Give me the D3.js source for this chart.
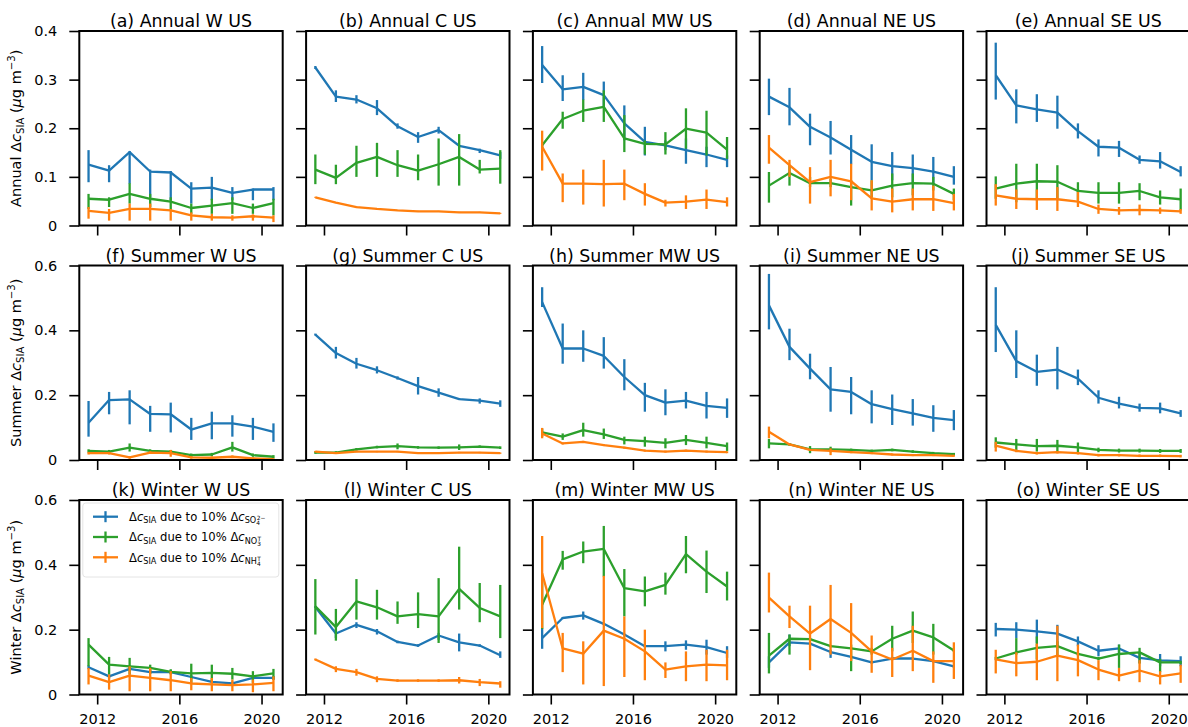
<!DOCTYPE html>
<html>
<head>
<meta charset="utf-8">
<script src="https://cdn.jsdelivr.net/npm/d3@7"></script>
<style>
  body { margin: 0; background: #fff; }
  text { font-family: "DejaVu Sans", sans-serif; fill: #000; }
</style>
</head>
<body>
<svg id="chart" width="1188" height="727"></svg>
<script>
// ---- data -------------------------------------------------------------
const years = [2011, 2012, 2013, 2014, 2015, 2016, 2017, 2018, 2019, 2020];
const xTickYears = [2012, 2016, 2020];
const seasons = ["Annual", "Summer", "Winter"];
const regions = ["W", "C", "MW", "NE", "SE"];
const panelLetters = ["a", "b", "c", "d", "e", "f", "g", "h", "i", "j", "k", "l", "m", "n", "o"];
const seasonYTicks = [[0, 0.1, 0.2, 0.3, 0.4], [0, 0.2, 0.4, 0.6], [0, 0.2, 0.4, 0.6]];

// SIA response to a 10% change in sulfate (rows = panels a..o)
const so4Mean = [
  [0.125,0.113,0.151,0.111,0.109,0.076,0.078,0.067,0.074,0.074],
  [0.325,0.265,0.259,0.241,0.204,0.182,0.196,0.164,0.155,0.144],
  [0.330,0.280,0.285,0.268,0.210,0.172,0.165,0.155,0.146,0.135],
  [0.265,0.243,0.203,0.181,0.156,0.131,0.122,0.118,0.111,0.100],
  [0.309,0.247,0.239,0.232,0.194,0.162,0.160,0.135,0.132,0.110],
  [0.115,0.185,0.187,0.142,0.141,0.094,0.113,0.113,0.103,0.087],
  [0.387,0.330,0.297,0.277,0.253,0.228,0.208,0.188,0.183,0.174],
  [0.487,0.344,0.344,0.321,0.256,0.200,0.177,0.183,0.167,0.161],
  [0.477,0.349,0.282,0.218,0.210,0.172,0.157,0.144,0.130,0.123],
  [0.417,0.305,0.272,0.279,0.251,0.192,0.174,0.161,0.159,0.144],
  [0.084,0.056,0.079,0.069,0.069,0.054,0.039,0.034,0.051,0.051],
  [0.270,0.188,0.215,0.195,0.162,0.151,0.182,0.161,0.151,0.121],
  [0.174,0.236,0.244,0.218,0.185,0.149,0.149,0.154,0.146,0.128],
  [0.099,0.161,0.157,0.131,0.116,0.099,0.111,0.111,0.103,0.087],
  [0.202,0.200,0.195,0.188,0.164,0.135,0.142,0.113,0.105,0.103]
];
const so4Low = [
  [0.089,0.089,0.086,0.058,0.052,0.045,0.052,0.052,0.052,0.052],
  [0.322,0.254,0.251,0.227,0.199,0.170,0.189,0.161,0.149,0.137],
  [0.293,0.256,0.258,0.244,0.175,0.144,0.155,0.127,0.120,0.120],
  [0.227,0.206,0.165,0.146,0.126,0.093,0.093,0.089,0.086,0.084],
  [0.259,0.210,0.213,0.199,0.179,0.142,0.141,0.127,0.117,0.101],
  [0.072,0.141,0.110,0.087,0.085,0.062,0.064,0.072,0.062,0.056],
  [0.384,0.313,0.282,0.267,0.248,0.202,0.195,0.185,0.174,0.164],
  [0.472,0.297,0.303,0.282,0.215,0.149,0.138,0.159,0.128,0.130],
  [0.403,0.308,0.249,0.149,0.141,0.113,0.108,0.106,0.087,0.092],
  [0.333,0.253,0.229,0.218,0.231,0.174,0.159,0.149,0.144,0.133],
  [0.078,0.050,0.073,0.063,0.063,0.048,0.033,0.028,0.045,0.045],
  [0.267,0.174,0.205,0.185,0.158,0.147,0.169,0.133,0.147,0.113],
  [0.141,0.233,0.231,0.215,0.182,0.146,0.133,0.138,0.123,0.113],
  [0.082,0.149,0.153,0.113,0.112,0.095,0.107,0.107,0.099,0.083],
  [0.179,0.174,0.159,0.149,0.149,0.118,0.126,0.097,0.087,0.087]
];
const so4High = [
  [0.155,0.124,0.153,0.115,0.112,0.089,0.100,0.079,0.076,0.079],
  [0.328,0.278,0.268,0.258,0.210,0.192,0.203,0.166,0.158,0.151],
  [0.369,0.309,0.314,0.296,0.247,0.203,0.175,0.179,0.162,0.144],
  [0.302,0.283,0.230,0.215,0.186,0.167,0.151,0.146,0.141,0.122],
  [0.376,0.280,0.270,0.267,0.210,0.177,0.174,0.144,0.151,0.122],
  [0.182,0.210,0.215,0.167,0.177,0.130,0.149,0.138,0.130,0.113],
  [0.390,0.349,0.315,0.289,0.258,0.256,0.221,0.191,0.190,0.184],
  [0.533,0.421,0.400,0.379,0.311,0.238,0.218,0.210,0.210,0.190],
  [0.574,0.405,0.328,0.287,0.256,0.215,0.202,0.188,0.169,0.154],
  [0.533,0.400,0.325,0.349,0.279,0.215,0.195,0.174,0.177,0.154],
  [0.090,0.062,0.085,0.075,0.075,0.060,0.045,0.040,0.057,0.057],
  [0.273,0.202,0.223,0.202,0.166,0.155,0.190,0.188,0.155,0.133],
  [0.205,0.239,0.256,0.221,0.188,0.152,0.164,0.167,0.169,0.149],
  [0.118,0.185,0.161,0.138,0.120,0.103,0.115,0.115,0.107,0.091],
  [0.221,0.223,0.231,0.215,0.179,0.152,0.154,0.130,0.125,0.118]
];

// SIA response to a 10% change in total nitrate
const no3Mean = [
  [0.055,0.053,0.065,0.055,0.049,0.036,0.041,0.046,0.036,0.046],
  [0.115,0.098,0.129,0.141,0.124,0.113,0.126,0.141,0.115,0.117],
  [0.165,0.219,0.236,0.244,0.179,0.168,0.167,0.199,0.191,0.156],
  [0.082,0.108,0.087,0.087,0.079,0.072,0.082,0.087,0.086,0.065],
  [0.076,0.086,0.091,0.090,0.071,0.067,0.067,0.071,0.058,0.054],
  [0.028,0.026,0.038,0.028,0.026,0.015,0.017,0.039,0.015,0.010],
  [0.023,0.023,0.033,0.040,0.043,0.039,0.038,0.039,0.041,0.038],
  [0.085,0.072,0.092,0.079,0.062,0.058,0.053,0.062,0.053,0.043],
  [0.051,0.048,0.033,0.033,0.031,0.028,0.031,0.026,0.021,0.018],
  [0.054,0.048,0.043,0.044,0.039,0.031,0.029,0.029,0.028,0.028],
  [0.154,0.092,0.087,0.082,0.070,0.065,0.067,0.064,0.056,0.065],
  [0.272,0.208,0.287,0.269,0.241,0.248,0.241,0.326,0.267,0.241],
  [0.277,0.417,0.441,0.449,0.328,0.318,0.338,0.433,0.379,0.333],
  [0.120,0.172,0.171,0.149,0.142,0.133,0.172,0.197,0.176,0.136],
  [0.111,0.130,0.144,0.149,0.125,0.111,0.125,0.130,0.099,0.099]
];
const no3Low = [
  [0.034,0.038,0.045,0.038,0.031,0.024,0.024,0.024,0.024,0.021],
  [0.085,0.085,0.100,0.100,0.100,0.093,0.082,0.082,0.107,0.086],
  [0.160,0.199,0.213,0.213,0.151,0.146,0.146,0.158,0.144,0.137],
  [0.047,0.082,0.079,0.079,0.041,0.058,0.058,0.062,0.072,0.052],
  [0.055,0.048,0.052,0.055,0.052,0.045,0.045,0.052,0.043,0.031],
  [0.023,0.021,0.026,0.023,0.021,0.010,0.012,0.026,0.010,0.005],
  [0.019,0.019,0.029,0.036,0.033,0.035,0.034,0.031,0.037,0.034],
  [0.072,0.062,0.072,0.065,0.048,0.041,0.036,0.046,0.036,0.028],
  [0.036,0.044,0.021,0.024,0.027,0.024,0.027,0.022,0.017,0.014],
  [0.038,0.031,0.026,0.026,0.024,0.024,0.023,0.023,0.022,0.022],
  [0.087,0.062,0.062,0.065,0.062,0.036,0.041,0.046,0.036,0.046],
  [0.185,0.166,0.231,0.231,0.218,0.205,0.159,0.262,0.223,0.174],
  [0.202,0.385,0.405,0.364,0.241,0.272,0.308,0.374,0.313,0.290],
  [0.065,0.123,0.167,0.145,0.072,0.123,0.133,0.159,0.123,0.131],
  [0.106,0.123,0.108,0.118,0.120,0.106,0.082,0.095,0.069,0.094]
];
const no3High = [
  [0.065,0.058,0.087,0.065,0.058,0.045,0.055,0.058,0.045,0.055],
  [0.146,0.125,0.164,0.170,0.155,0.146,0.179,0.188,0.135,0.155],
  [0.170,0.234,0.259,0.278,0.227,0.175,0.192,0.241,0.236,0.182],
  [0.110,0.124,0.100,0.096,0.093,0.093,0.107,0.107,0.100,0.076],
  [0.101,0.127,0.127,0.124,0.089,0.089,0.089,0.087,0.072,0.076],
  [0.033,0.031,0.051,0.033,0.031,0.020,0.022,0.056,0.020,0.015],
  [0.027,0.027,0.037,0.044,0.051,0.043,0.042,0.048,0.045,0.042],
  [0.097,0.082,0.115,0.097,0.072,0.072,0.067,0.077,0.072,0.054],
  [0.065,0.052,0.043,0.041,0.035,0.032,0.035,0.030,0.025,0.022],
  [0.070,0.065,0.065,0.062,0.054,0.038,0.035,0.035,0.034,0.034],
  [0.174,0.116,0.113,0.092,0.078,0.095,0.092,0.082,0.072,0.079],
  [0.356,0.264,0.356,0.323,0.287,0.315,0.359,0.456,0.344,0.338],
  [0.350,0.443,0.472,0.520,0.387,0.364,0.376,0.489,0.444,0.379],
  [0.190,0.185,0.175,0.153,0.154,0.144,0.212,0.256,0.218,0.141],
  [0.116,0.174,0.179,0.164,0.130,0.116,0.154,0.144,0.110,0.104]
];

// SIA response to a 10% change in total ammonium
const nh4Mean = [
  [0.030,0.026,0.034,0.034,0.031,0.021,0.017,0.016,0.019,0.016],
  [0.058,0.047,0.038,0.034,0.031,0.029,0.029,0.027,0.027,0.025],
  [0.162,0.086,0.086,0.085,0.086,0.065,0.047,0.049,0.053,0.048],
  [0.160,0.124,0.089,0.100,0.091,0.056,0.049,0.054,0.054,0.046],
  [0.062,0.055,0.054,0.054,0.049,0.034,0.031,0.032,0.031,0.029],
  [0.021,0.021,0.008,0.023,0.021,0.008,0.007,0.010,0.005,0.003],
  [0.026,0.021,0.026,0.026,0.026,0.021,0.021,0.023,0.023,0.021],
  [0.082,0.051,0.056,0.046,0.038,0.029,0.026,0.029,0.026,0.024],
  [0.087,0.048,0.031,0.028,0.024,0.021,0.017,0.015,0.015,0.013],
  [0.044,0.028,0.021,0.024,0.021,0.015,0.015,0.013,0.013,0.012],
  [0.058,0.038,0.058,0.051,0.044,0.034,0.031,0.029,0.031,0.036],
  [0.108,0.079,0.069,0.048,0.043,0.043,0.043,0.044,0.038,0.034],
  [0.374,0.142,0.126,0.197,0.172,0.133,0.077,0.087,0.092,0.090],
  [0.299,0.241,0.188,0.233,0.190,0.133,0.108,0.135,0.103,0.103],
  [0.108,0.097,0.101,0.120,0.106,0.077,0.058,0.074,0.056,0.065]
];
const nh4Low = [
  [0.014,0.010,0.010,0.010,0.010,0.010,0.010,0.010,0.010,0.007],
  [0.057,0.046,0.037,0.033,0.030,0.028,0.028,0.026,0.026,0.024],
  [0.113,0.048,0.043,0.039,0.052,0.041,0.039,0.034,0.034,0.039],
  [0.127,0.100,0.045,0.060,0.052,0.031,0.027,0.031,0.030,0.031],
  [0.041,0.034,0.032,0.030,0.038,0.024,0.022,0.021,0.024,0.024],
  [0.017,0.017,0.004,0.019,0.010,0.004,0.003,0.006,0.002,0.001],
  [0.024,0.019,0.024,0.024,0.024,0.019,0.019,0.021,0.021,0.019],
  [0.067,0.048,0.053,0.043,0.035,0.026,0.023,0.026,0.023,0.021],
  [0.067,0.045,0.028,0.015,0.021,0.018,0.014,0.012,0.012,0.010],
  [0.026,0.024,0.017,0.020,0.017,0.011,0.011,0.009,0.009,0.008],
  [0.031,0.015,0.010,0.010,0.010,0.013,0.010,0.010,0.007,0.010],
  [0.105,0.069,0.058,0.038,0.039,0.039,0.039,0.034,0.026,0.021],
  [0.205,0.069,0.031,0.026,0.054,0.044,0.051,0.041,0.041,0.044],
  [0.253,0.205,0.075,0.123,0.103,0.067,0.054,0.072,0.036,0.048],
  [0.065,0.056,0.044,0.041,0.056,0.044,0.041,0.038,0.031,0.036]
];
const nh4High = [
  [0.038,0.034,0.045,0.045,0.034,0.027,0.024,0.021,0.023,0.021],
  [0.059,0.048,0.039,0.035,0.032,0.030,0.030,0.028,0.028,0.026],
  [0.195,0.107,0.115,0.135,0.115,0.087,0.053,0.062,0.074,0.058],
  [0.186,0.135,0.120,0.135,0.127,0.093,0.076,0.076,0.082,0.065],
  [0.085,0.074,0.074,0.079,0.069,0.043,0.038,0.043,0.037,0.034],
  [0.025,0.025,0.012,0.027,0.031,0.012,0.011,0.014,0.008,0.005],
  [0.028,0.023,0.028,0.028,0.028,0.023,0.023,0.025,0.025,0.023],
  [0.099,0.054,0.059,0.049,0.041,0.032,0.029,0.032,0.029,0.027],
  [0.103,0.051,0.034,0.036,0.027,0.024,0.020,0.018,0.018,0.016],
  [0.056,0.032,0.025,0.028,0.025,0.019,0.019,0.017,0.017,0.016],
  [0.082,0.062,0.087,0.082,0.072,0.051,0.051,0.046,0.046,0.056],
  [0.111,0.087,0.079,0.056,0.047,0.047,0.047,0.054,0.048,0.041],
  [0.489,0.190,0.164,0.366,0.241,0.200,0.099,0.133,0.138,0.138],
  [0.376,0.274,0.274,0.338,0.282,0.182,0.144,0.212,0.133,0.161],
  [0.138,0.130,0.157,0.212,0.154,0.106,0.082,0.106,0.072,0.092]
];

// ---- layout -----------------------------------------------------------
const svg = d3.select("#chart");
const panelW = 203.4, panelH = 194.5;
const left0 = 79.3, colStep = 226.8;
const top0 = 31, rowStep = 234.5;
const tickFont = 14.5, titleFont = 17.4, legendFont = 11.6;
const lineW = 2.3;

// values are yearly means, placed a little past the start of each year
const timeOffset = 0.58;
const xs = years.map(y => y + timeOffset);
const xPad = 0.45;

const series = [
  { mean: so4Mean, low: so4Low, high: so4High, color: "#1f77b4", species: ["SO", "4", "2\u2212"] },
  { mean: no3Mean, low: no3Low, high: no3High, color: "#2ca02c", species: ["NO", "3", "T"] },
  { mean: nh4Mean, low: nh4Low, high: nh4High, color: "#ff7f0e", species: ["NH", "4", "T"] }
];

const x = d3.scaleLinear()
  .domain([xs[0] - xPad, xs[xs.length - 1] + xPad])
  .range([0, panelW]);

// appends a run of text pieces with sub/superscript shifts
function richText(sel, pieces, size) {
  let level = 0;
  pieces.forEach(p => {
    const t = sel.append("tspan").text(p.t);
    const target = p.shift || 0;
    const dy = target - level;
    if (dy !== 0) t.attr("dy", dy);
    if (p.dx) t.attr("dx", p.dx);
    level = target;
    t.attr("font-size", (p.scale || 1) * size);
    if (p.italic) t.attr("font-style", "italic");
  });
}

function speciesPieces(sp, size) {
  return [
    { t: "\u0394" },
    { t: "c", italic: true },
    { t: sp[0], scale: 0.7, shift: 0.22 * size },
    { t: sp[1], scale: 0.5, shift: 0.38 * size },
    { t: sp[2], scale: 0.5, shift: -0.05 * size, dx: -0.28 * size }
  ];
}

for (let r = 0; r < 3; r++) {
  const yMax = d3.max(seasonYTicks[r]);
  const y = d3.scaleLinear().domain([0, yMax]).range([panelH, 0]);

  for (let c = 0; c < 5; c++) {
    const idx = r * 5 + c;
    const gx = left0 + c * colStep, gy = top0 + r * rowStep;
    const g = svg.append("g").attr("transform", `translate(${gx},${gy})`);

    // series: connecting line plus vertical uncertainty bars
    series.forEach(s => {
      const mean = s.mean[idx], lo = s.low[idx], hi = s.high[idx];
      const pts = xs.map((xv, i) => ({ x: xv, m: mean[i], lo: lo[i], hi: hi[i] }));
      g.append("path")
        .datum(pts)
        .attr("fill", "none")
        .attr("stroke", s.color)
        .attr("stroke-width", lineW)
        .attr("stroke-linejoin", "round")
        .attr("d", d3.line().x(d => x(d.x)).y(d => y(d.m)));
      g.selectAll(null)
        .data(pts)
        .join("line")
        .attr("x1", d => x(d.x)).attr("x2", d => x(d.x))
        .attr("y1", d => y(d.lo)).attr("y2", d => y(d.hi))
        .attr("stroke", s.color)
        .attr("stroke-width", lineW);
    });

    // axes
    const yAxis = d3.axisLeft(y)
      .tickValues(seasonYTicks[r])
      .tickSize(10)
      .tickPadding(12)
      .tickFormat(c === 0 ? (d => d === 0 ? "0" : d3.format(".1f")(d)) : "");
    const ya = g.append("g").call(yAxis);
    const xAxis = d3.axisBottom(x)
      .tickValues(xTickYears)
      .tickSize(10)
      .tickPadding(9)
      .tickFormat(r === 2 ? d3.format("d") : "");
    const xa = g.append("g").attr("transform", `translate(0,${panelH})`).call(xAxis);
    [ya, xa].forEach(a => {
      a.select(".domain").remove();
      a.selectAll(".tick line").attr("stroke", "#000").attr("stroke-width", 1.6);
      a.selectAll(".tick text")
        .attr("font-family", "DejaVu Sans, sans-serif")
        .attr("font-size", tickFont)
        .attr("fill", "#000");
    });

    // frame
    g.append("rect")
      .attr("width", panelW).attr("height", panelH)
      .attr("fill", "none").attr("stroke", "#000").attr("stroke-width", 2);

    // title
    g.append("text")
      .attr("x", panelW / 2).attr("y", -4)
      .attr("text-anchor", "middle")
      .attr("font-size", titleFont)
      .text(`(${panelLetters[idx]}) ${seasons[r]} ${regions[c]} US`);

    // legend in the first winter panel
    if (idx === 10) {
      const lg = g.append("g");
      lg.append("rect")
        .attr("x", 3.5).attr("y", 3).attr("width", 196).attr("height", 74)
        .attr("rx", 3).attr("fill", "#fff").attr("fill-opacity", 0.8)
        .attr("stroke", "#e4e4e4").attr("stroke-width", 1);
      series.forEach((s, k) => {
        const cy = 16.7 + k * 20.3;
        lg.append("line").attr("x1", 13.7).attr("x2", 38.7).attr("y1", cy).attr("y2", cy)
          .attr("stroke", s.color).attr("stroke-width", lineW);
        lg.append("line").attr("x1", 26.2).attr("x2", 26.2).attr("y1", cy - 5.5).attr("y2", cy + 5.5)
          .attr("stroke", s.color).attr("stroke-width", lineW);
        const t = lg.append("text").attr("x", 49.7).attr("y", cy + 4.2).attr("font-size", legendFont);
        richText(t, [
          { t: "\u0394" },
          { t: "c", italic: true },
          { t: "SIA", scale: 0.7, shift: 0.22 * legendFont },
          { t: " due to 10% ", shift: 0 }
        ].concat(speciesPieces(s.species, legendFont)), legendFont);
      });
    }
  }

  // row label
  const yl = svg.append("text")
    .attr("transform", `translate(21,${top0 + r * rowStep + panelH / 2}) rotate(-90)`)
    .attr("text-anchor", "middle")
    .attr("font-size", tickFont);
  richText(yl, [
    { t: seasons[r] + " \u0394" },
    { t: "c", italic: true },
    { t: "SIA", scale: 0.7, shift: 0.22 * tickFont },
    { t: " (", shift: 0 },
    { t: "\u03bc", italic: true },
    { t: "g m" },
    { t: "\u22123", scale: 0.7, shift: -0.4 * tickFont },
    { t: ")", shift: 0 }
  ], tickFont);
}
</script>
</body>
</html>
